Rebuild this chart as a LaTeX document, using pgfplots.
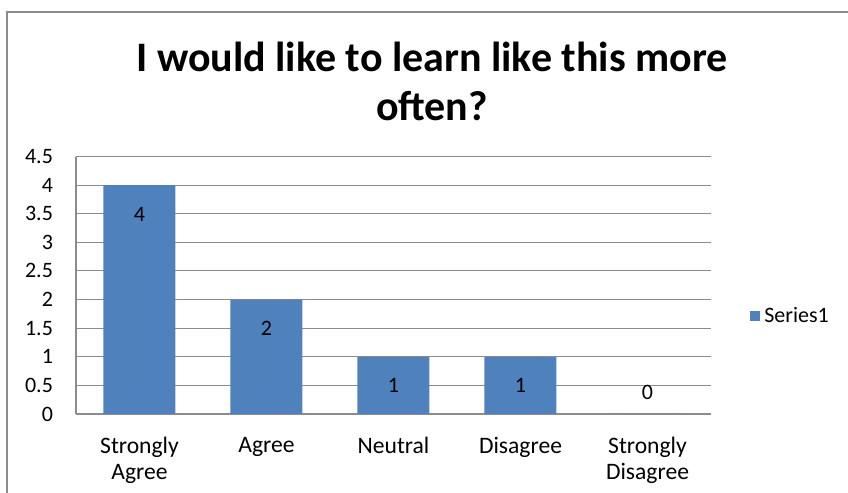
\documentclass[border=0pt]{standalone}
\usepackage{fontspec}
\setmainfont{Carlito}
\usepackage{pgfplots}
\pgfplotsset{compat=1.18}
\usetikzlibrary{calc}
\definecolor{barblue}{HTML}{4F81BD}
\definecolor{gridgray}{HTML}{8C8C8C}
\begin{document}
\begin{tikzpicture}[x=1pt,y=1pt]
\begin{axis}[
  scale only axis, width=317.5pt, height=128.75pt,
  xmin=-0.5, xmax=4.5, ymin=0, ymax=4.5,
  ytick={0,0.5,...,4.5},
  xtick={0,1,2,3,4},
  xticklabels={{Strongly\\Agree},Agree,Neutral,Disagree,{Strongly\\Disagree}},
  xticklabel style={align=center, font=\fontsize{11.8}{13}\selectfont, yshift=-8pt},
  yticklabel style={font=\fontsize{11}{13}\selectfont, xshift=-8pt},
  /pgf/number format/assume math mode=true,
  ymajorgrids, grid style={gridgray, line width=0.5pt},
  major tick length=0pt,
  axis x line*=bottom, axis y line*=left,
  axis line style={gridgray, line width=0.6pt},
  tick style={draw=none},
  legend style={draw=none, fill=none, at={(337pt,49pt)}, anchor=west, font=\fontsize{11}{13}\selectfont, inner sep=0pt},
  legend image code/.code={\fill[barblue] (0pt,-2.5pt) rectangle (5pt,2.5pt);},
]
\addplot[ybar, bar width=36pt, fill=barblue, draw=none,
  visualization depends on={y \as \yval},
  nodes near coords,
  every node near coord/.append style={anchor=center, font=\fontsize{11}{13}\selectfont, yshift={ifthenelse(\yval>0,-14.5,11)}},
] coordinates {(0,4) (1,2) (2,1) (3,1) (4,0)};
\addlegendentry{Series1}
\coordinate (O) at (rel axis cs:0,0);
\end{axis}
\pgfresetboundingbox
\begin{scope}[shift={($(O)+(-38,-39.5)$)}]
\path[use as bounding box] (0,0) rectangle (424,246.5);
\draw[gridgray, line width=0.8pt] (3.5,-2) -- (3.5,240.5) -- (426,240.5);
\node[align=center, font=\fontsize{21}{24.5}\selectfont\bfseries] at (216,206) {I would like to learn like this more\\often?};
\end{scope}
\end{tikzpicture}
\end{document}
